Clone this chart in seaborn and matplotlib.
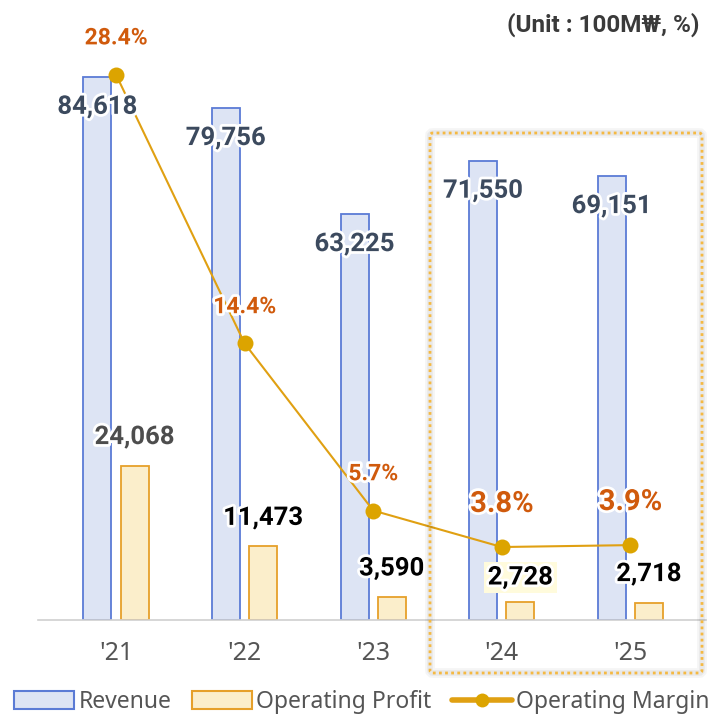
#!/usr/bin/env python3
# Revenue / operating profit / operating margin chart
import numpy as np
import pandas as pd
import matplotlib
matplotlib.use("Agg")
import matplotlib.pyplot as plt
import matplotlib.patheffects as pe
from matplotlib.patches import Patch, FancyBboxPatch
from matplotlib.lines import Line2D
import seaborn as sns

#%% data
years = ["'21", "'22", "'23", "'24", "'25"]
revenue = [84618, 79756, 63225, 71550, 69151]
profit = [24068, 11473, 3590, 2728, 2718]
margin = [28.4, 14.4, 5.7, 3.8, 3.9]

rev_lbl = ["84,618", "79,756", "63,225", "71,550", "69,151"]
pro_lbl = ["24,068", "11,473", "3,590", "2,728", "2,718"]
mar_lbl = ["28.4%", "14.4%", "5.7%", "3.8%", "3.9%"]

#%% style
sns.set_style("white")
plt.rcParams['font.family'] = ['Noto Sans', 'DejaVu Sans']
bold_fam = ['Roboto', 'DejaVu Sans']

c_rev, c_rev_e = "#dde4f4", "#5b7bd5"
c_pro, c_pro_e = "#fbeecb", "#e6a02a"
c_line = "#e0a012"
c_pct = "#d05a0c"
c_num = "#3c4a5e"

df = pd.DataFrame({"year": years * 2,
                   "value": revenue + profit,
                   "series": ["Revenue"] * 5 + ["Operating Profit"] * 5})

fig = plt.figure(figsize=(7.17, 7.18), dpi=100)
ax = fig.add_axes([0.053, 0.1365, 0.932, 0.8357])

sns.barplot(data=df, x="year", y="value", hue="series",
            hue_order=["Revenue", "Operating Profit"],
            palette={"Revenue": c_rev, "Operating Profit": c_pro},
            width=0.58, gap=0.25, legend=False, ax=ax, saturation=1)
for cont, ec in zip(ax.containers, [c_rev_e, c_pro_e]):
    for p in cont:
        p.set_edgecolor(ec)
        p.set_linewidth(1.3)

ax.set_ylim(0, 93500)
ax.set_xlim(-0.607, 4.59)
ax.set_xlabel("")
ax.set_ylabel("")
ax.set_yticks([])
for s in ["top", "right", "left"]:
    ax.spines[s].set_visible(False)
ax.spines["bottom"].set_color("#d0d0d0")
ax.spines["bottom"].set_linewidth(1.2)
ax.tick_params(axis="x", length=0, pad=15, labelsize=18, labelcolor="#555555")

ax2 = ax.twinx()
x = np.arange(len(years))
sns.lineplot(x=x, y=margin, ax=ax2, color=c_line, lw=1.5,
             marker="o", markersize=11.5, markeredgewidth=0,
             markerfacecolor="#dca400")
ax2.set_ylim(0, 31.25)
ax2.set_yticks([])
for s in ["top", "right", "left", "bottom"]:
    ax2.spines[s].set_visible(False)

glow = [pe.withStroke(linewidth=4, foreground="white")]

# revenue labels
for i, v in enumerate(revenue):
    ax2.annotate(rev_lbl[i], (i - 0.145, v / 93500 * 31.25), xytext=(0, -21.5),
                 textcoords="offset points", ha="center", va="center",
                 fontsize=18.5, fontweight="bold", family=bold_fam,
                 color=c_num, path_effects=glow)

# profit labels
pro_col = ["#4d4d4d", "black", "black", "black", "black"]
for i, v in enumerate(profit):
    kw = {}
    if i == 3:
        kw["bbox"] = dict(boxstyle="square,pad=0.15", fc="#fffbdc", ec="none")
    ax2.annotate(pro_lbl[i], (i + 0.145, v / 93500 * 31.25),
                 xytext=(0, 18 if i == 3 else 20.5),
                 textcoords="offset points", ha="center", va="center",
                 fontsize=18.5, fontweight="bold", family=bold_fam,
                 color=pro_col[i], path_effects=glow, **kw)

# margin labels
for i, v in enumerate(margin):
    big = i >= 3
    ax2.annotate(mar_lbl[i], (i, v), xytext=(0, 31 if big else 26.5),
                 textcoords="offset points", ha="center", va="center",
                 fontsize=21 if big else 16.5, fontweight="bold", family=bold_fam,
                 color=c_pct, path_effects=glow)

# highlight box around the last two years (faint shadow + dotted frame)
for lw, a in [(7, 0.04), (4, 0.05)]:
    sh = FancyBboxPatch((430 / 717, 1 - 673 / 718), 272 / 717, 540 / 718,
                        boxstyle="round,pad=0,rounding_size=0.004",
                        transform=fig.transFigure, fill=False,
                        ec="black", alpha=a, lw=lw, zorder=4)
    fig.patches.append(sh)
box = FancyBboxPatch((430 / 717, 1 - 673 / 718), 272 / 717, 540 / 718,
                     boxstyle="round,pad=0,rounding_size=0.004",
                     transform=fig.transFigure, fill=False,
                     ec="#f5b942", lw=2, ls=(0, (1, 1.2)), zorder=5)
fig.patches.append(box)

fig.text(0.976, 0.966, "(Unit : 100M₩, %)", ha="right", va="center",
         fontsize=17.5, fontweight="bold", family=bold_fam, color="#3a3a3a")

handles = [Patch(facecolor=c_rev, edgecolor=c_rev_e, lw=1.5),
           Patch(facecolor=c_pro, edgecolor=c_pro_e, lw=1.5),
           Line2D([0], [0], color=c_line, lw=4, marker="o", markersize=10,
                  markerfacecolor="#dca400", markeredgewidth=0)]
fig.legend(handles, ["Revenue", "Operating Profit", "Operating Margin"],
           loc="center", bbox_to_anchor=(0.505, 0.022), ncol=3, frameon=False,
           fontsize=16.5, labelcolor="#555555", handlelength=2.6,
           handleheight=0.8, handletextpad=0.2, columnspacing=0.9,
           borderaxespad=0)

fig.savefig("out.png", dpi=100)
